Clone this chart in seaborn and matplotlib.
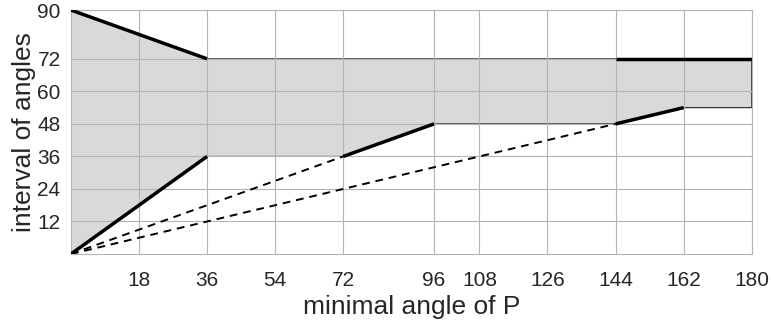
import numpy as np
import pandas as pd
import matplotlib
matplotlib.use("Agg")
import matplotlib.pyplot as plt
import seaborn as sns

# boundaries of the shaded region
upper_x = [0, 36, 180]
upper_y = [90, 72, 72]
lower_x = [0, 36, 72, 96, 144, 162, 180]
lower_y = [0, 36, 36, 48, 48, 54, 54]

# thick solid segments (x0, x1), (y0, y1)
thick_x = [[0, 36], [0, 36], [72, 96], [144, 162], [144, 180]]
thick_y = [[90, 72], [0, 36], [36, 48], [48, 54], [72, 72]]

# dashed rays from the origin
dash_x = [[0, 72], [0, 144]]
dash_y = [[0, 36], [0, 48]]

x_ticks = [18, 36, 54, 72, 96, 108, 126, 144, 162, 180]
y_ticks = [12, 24, 36, 48, 60, 72, 90]

sns.set_style("whitegrid", {"grid.color": "#b4b4b4", "axes.edgecolor": "#b4b4b4"})
plt.rcParams['font.family'] = ['Liberation Sans', 'DejaVu Sans']

fig = plt.figure(figsize=(7.71, 3.24), dpi=100)
ax = fig.add_axes([0.092, 0.216, 0.883, 0.753])

poly_x = np.r_[upper_x, lower_x[::-1]]
poly_y = np.r_[upper_y, lower_y[::-1]]
ax.fill(poly_x, poly_y, facecolor="#d9d9d9", edgecolor="#222222", linewidth=0.8, zorder=1)

for xs, ys in zip(dash_x, dash_y):
    seg = pd.DataFrame({"x": xs, "y": ys})
    sns.lineplot(data=seg, x="x", y="y", ax=ax, color="black", linewidth=1.4,
                 linestyle=(0, (4, 3)), zorder=3)

for xs, ys in zip(thick_x, thick_y):
    seg = pd.DataFrame({"x": xs, "y": ys})
    sns.lineplot(data=seg, x="x", y="y", ax=ax, color="black", linewidth=2.5,
                 zorder=4, solid_capstyle="butt")

ax.set_xlim(0, 180)
ax.set_ylim(0, 90)
ax.set_xticks(x_ticks)
ax.set_yticks(y_ticks)
ax.grid(True, linewidth=0.8, zorder=2)
ax.set_axisbelow(False)
for sp in ax.spines.values():
    sp.set_linewidth(0.8)
ax.tick_params(axis="x", labelsize=15, pad=9, colors="#262626")
ax.tick_params(axis="y", labelsize=15, pad=4, colors="#262626")
ax.set_xlabel("minimal angle of P", fontsize=19, color="#262626", labelpad=3)
ax.set_ylabel("interval of angles", fontsize=19, color="#262626", labelpad=1)

plt.savefig("out.png", dpi=100)
